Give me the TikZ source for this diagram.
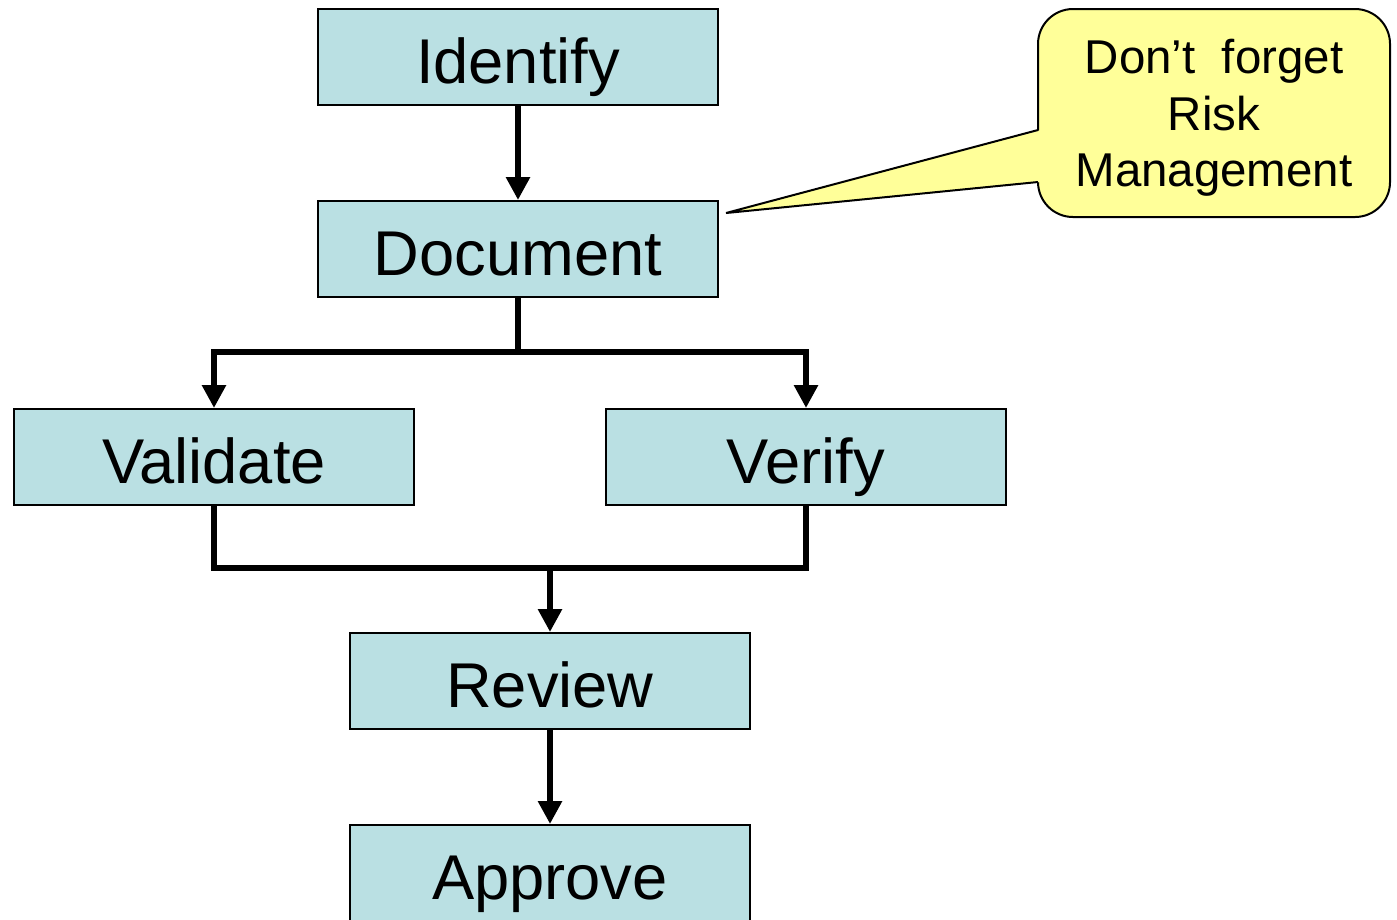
\documentclass[tikz,border=0pt]{standalone}
\usepackage{fontspec}
\setmainfont{Liberation Sans}
\usepackage{tikz}
\usetikzlibrary{positioning, arrows.meta, calc}
\definecolor{boxblue}{HTML}{BAE0E3}
\definecolor{noteyellow}{HTML}{FFFF99}

\begin{document}
\begin{tikzpicture}[
  x=0.1mm, y=-0.1mm,
  >={Triangle[width=2.3mm, length=2.3mm]},
  stepbox/.style={draw, line width=0.2mm, fill=boxblue, minimum width=40mm, minimum height=9.6mm,
    inner sep=0pt, font=\fontsize{18}{21}\selectfont, text height=14.8pt, text depth=0pt},
  flow/.style={line width=0.6mm},
  note/.style={draw, line width=0.2mm, fill=noteyellow, rounded corners=3.5mm, minimum width=35.2mm,
    minimum height=20.8mm, inner sep=0pt, align=center, font=\fontsize{13.5}{16}\selectfont, text depth=0pt}
]
\useasboundingbox (0,0) rectangle (1397,919);
% Process steps
\node[stepbox] (identify) at (518, 57) {Identify};
\node[stepbox] (document) at (518, 249) {Document};
\node[stepbox] (validate) at (214, 457) {Validate};
\node[stepbox] (verify) at (806, 457) {Verify};
\node[stepbox] (review) at (550, 681) {Review};
\node[stepbox] (approve) at (550, 873) {Approve};
% Branch points
\coordinate (fork) at (518, 352);
\coordinate (merge) at (550, 568);
% Connectors
\draw[flow, ->] (identify) -- (document);
\draw[flow] (document) -- (fork);
\draw[flow, ->] (fork) -| (validate);
\draw[flow, ->] (fork) -| (verify);
\draw[flow] (validate) |- (merge);
\draw[flow] (verify) |- (merge);
\draw[flow, ->] (merge) -- (review);
\draw[flow, ->] (review) -- (approve);
% Callout
\node[note] (reminder) at (1214, 113) {Don’t\ \ forget\\Risk\\Management};
\coordinate (tip) at (726, 213);
\fill[noteyellow] (tip) -- (1041, 130) -- (1041, 182) -- cycle;
\draw[line width=0.2mm] (1038, 130) -- (tip) -- (1038, 182);
\end{tikzpicture}
\end{document}
